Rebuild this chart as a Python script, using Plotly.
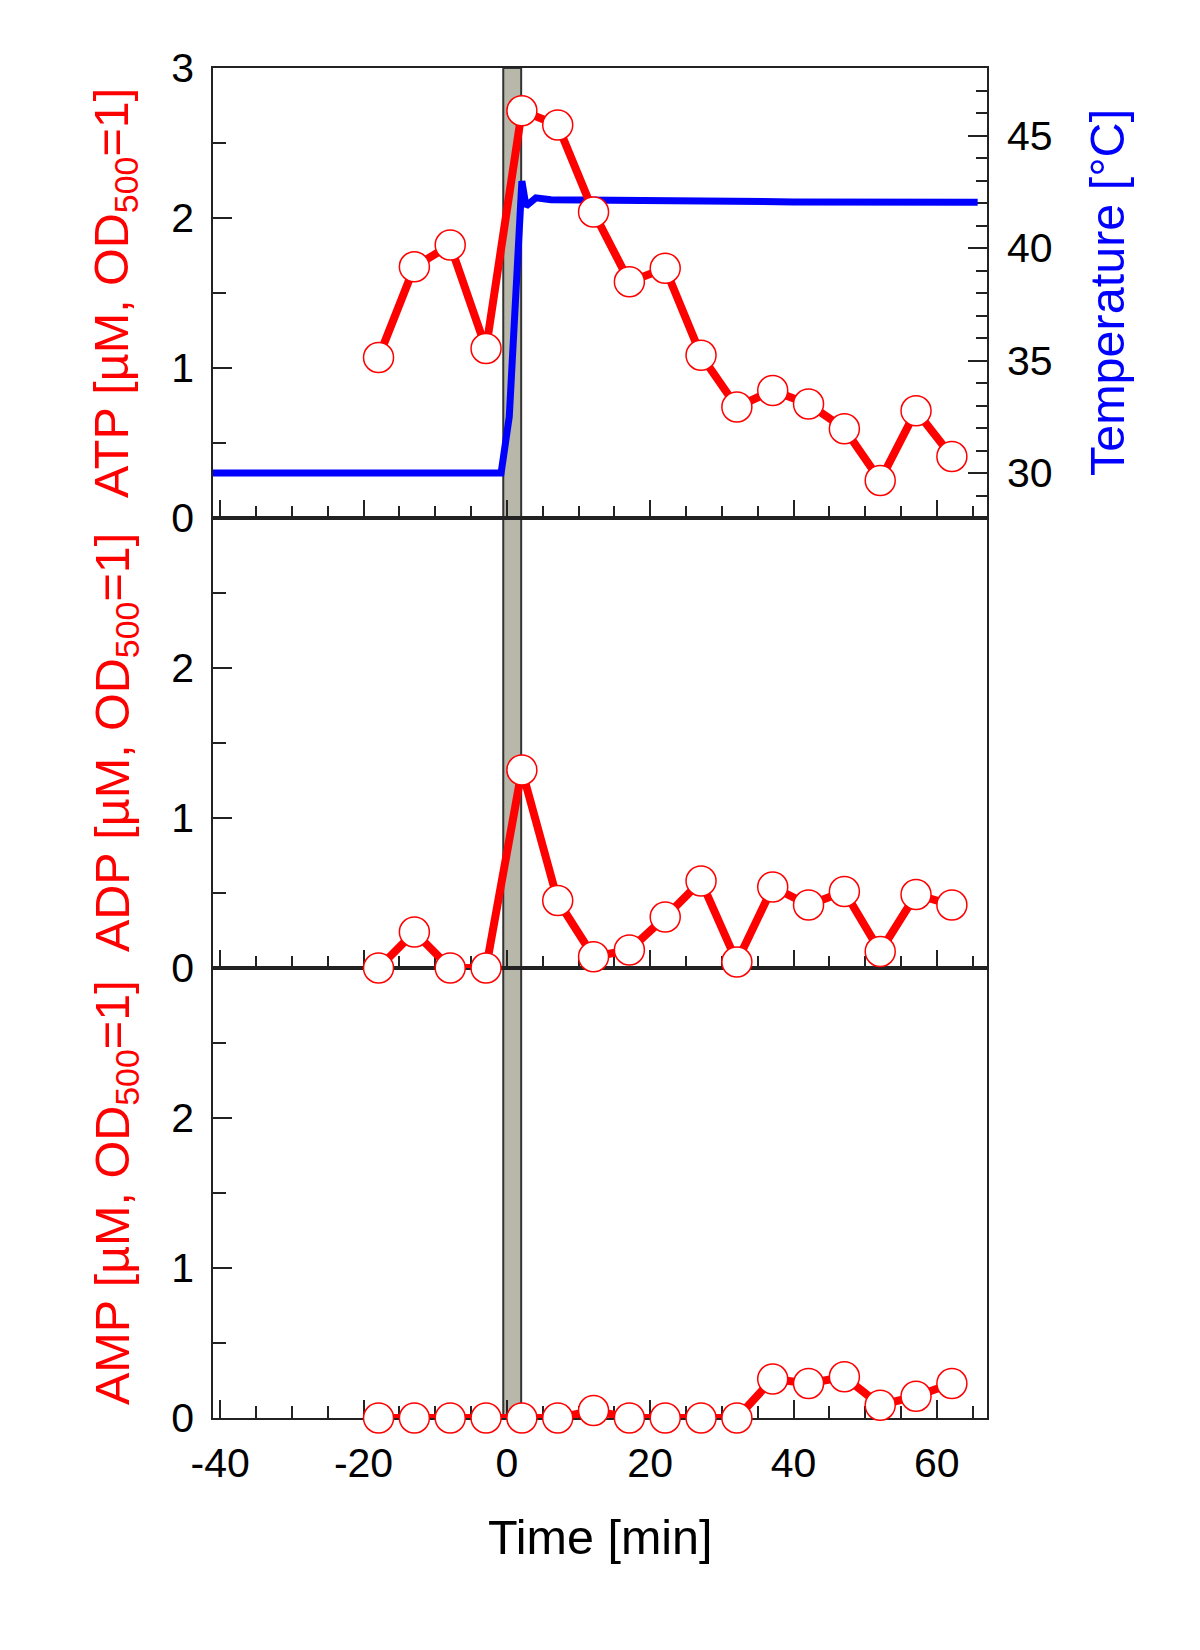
import plotly.graph_objects as go

# ---- data ----
time_pts = [-17.9, -12.9, -7.9, -2.9, 2.1, 7.1, 12.1, 17.1, 22.1, 27.1,
            32.1, 37.1, 42.1, 47.1, 52.1, 57.1, 62.1]
atp = [1.07, 1.675, 1.82, 1.13, 2.715, 2.62, 2.04, 1.575, 1.665, 1.085,
       0.74, 0.85, 0.76, 0.595, 0.25, 0.715, 0.41]
adp = [0.0, 0.24, 0.0, 0.0, 1.32, 0.45, 0.075, 0.12, 0.34, 0.58,
       0.04, 0.54, 0.42, 0.51, 0.11, 0.49, 0.42]
amp = [0.0, 0.0, 0.0, 0.0, 0.0, 0.0, 0.05, 0.0, 0.0, 0.0,
       0.0, 0.26, 0.23, 0.275, 0.085, 0.145, 0.23]

temp_time = [-41, -20, -0.8, 0.34, 1.03, 1.5, 1.73, 2.1, 2.67, 4.06, 6.15, 20, 40, 65.7]
temp_val = [30.0, 30.0, 30.0, 32.5, 36.95, 39.9, 42.15, 42.97, 41.86, 42.23, 42.15, 42.08, 42.05, 42.03]

heat_band = [-0.5, 2.0]

x_range = [-41, 67]
x_ticks = [-40, -20, 0, 20, 40, 60]
x_ticktext = ["-40", "-20", "0", "20", "40", "60"]
y_range = [0, 3]
temp_range = [28, 48]
temp_ticks = [30, 35, 40, 45]

FONT = "Liberation Sans, Arial, sans-serif"
RED = "#ff0000"
BLUE = "#0000ff"
AX = "#222222"
TICKF = 41
TITLEF = 48.5

# page has an 8px body margin: plot area must land at x 213..987, y 68..1418
W, H = 1192, 1642
ML, MT = 205, 60
PW, PH = 774, 1350

fig = go.Figure()

fig.add_trace(go.Scatter(x=temp_time, y=temp_val, mode="lines",
                         line=dict(color=BLUE, width=7),
                         xaxis="x3", yaxis="y3", showlegend=False))

marker = dict(symbol="circle", size=30, color="white",
              line=dict(color=RED, width=1.5))
line = dict(color=RED, width=8)

fig.add_trace(go.Scatter(x=time_pts, y=atp, mode="lines+markers", line=line,
                         marker=marker, xaxis="x3", yaxis="y4",
                         cliponaxis=False, showlegend=False))
fig.add_trace(go.Scatter(x=time_pts, y=adp, mode="lines+markers", line=line,
                         marker=marker, xaxis="x2", yaxis="y2",
                         cliponaxis=False, showlegend=False))
fig.add_trace(go.Scatter(x=time_pts, y=amp, mode="lines+markers", line=line,
                         marker=marker, xaxis="x", yaxis="y",
                         cliponaxis=False, showlegend=False))

xcommon = dict(range=x_range, showline=True, linecolor=AX, linewidth=1.5,
               ticks="inside", ticklen=18, tickwidth=1.5, tickcolor=AX,
               tickmode="array", tickvals=x_ticks, ticktext=x_ticktext,
               showgrid=False, zeroline=False, layer="below traces",
               minor=dict(dtick=5, tick0=0, ticks="inside", ticklen=12,
                          tickwidth=1.5, tickcolor=AX, showgrid=False),
               tickfont=dict(family=FONT, size=TICKF, color="black"))

ycommon = dict(range=y_range, showline=True, linecolor=AX, linewidth=1.5,
               ticks="inside", ticklen=19, tickwidth=1.5, tickcolor=AX,
               showgrid=False, zeroline=False, layer="below traces",
               tickfont=dict(family=FONT, size=TICKF, color="black"),
               ticklabelstandoff=9)

yminor = dict(tickmode="array", tickvals=[0.5, 1.5, 2.5],
              ticks="inside", ticklen=13, tickwidth=1.5, tickcolor=AX)

fig.update_layout(
    width=W, height=H,
    margin=dict(l=ML, r=W - ML - PW, t=MT, b=H - MT - PH, pad=0),
    paper_bgcolor="white", plot_bgcolor="white",
    font=dict(family=FONT, color="black"),
    xaxis=dict(**xcommon, domain=[0, 1], anchor="y", mirror=True,
               ticklabelstandoff=8),
    xaxis2=dict(**xcommon, domain=[0, 1], anchor="y2", matches="x",
                showticklabels=False, mirror=True),
    xaxis3=dict(**xcommon, domain=[0, 1], anchor="y3", matches="x",
                showticklabels=False, mirror=True),
    yaxis=dict(**ycommon, domain=[0, 1/3], anchor="x", mirror=True,
               tickmode="array", tickvals=[0, 1, 2], minor=yminor),
    yaxis2=dict(**ycommon, domain=[1/3, 2/3], anchor="x2", mirror=True,
                tickmode="array", tickvals=[0, 1, 2], minor=yminor),
    yaxis3=dict(range=temp_range, domain=[2/3, 1], anchor="x3", side="right",
                showline=True, linecolor=AX, linewidth=1.5,
                ticks="inside", ticklen=19, tickwidth=1.5, tickcolor=AX,
                tickmode="array", tickvals=temp_ticks,
                minor=dict(tickmode="array",
                           tickvals=[29, 31, 32, 33, 34, 36, 37, 38, 39, 41, 42, 43, 44, 46, 47],
                           ticks="inside", ticklen=11, tickwidth=1.5, tickcolor=AX),
                showgrid=False, zeroline=False, layer="below traces",
                tickfont=dict(family=FONT, size=TICKF, color="black"),
                ticklabelstandoff=10),
    yaxis4=dict(**ycommon, overlaying="y3", side="left", anchor="x3",
                tickmode="array", tickvals=[0, 1, 2, 3], minor=yminor),
)

fig.add_shape(type="rect", xref="x", yref="paper",
              x0=heat_band[0], x1=heat_band[1], y0=0, y1=1,
              fillcolor="#b7b7aa", line=dict(color="#333333", width=2),
              layer="below")

ann_font = dict(family=FONT, size=TITLEF, color=RED)
for label, yc in [("ATP [µM, OD<sub>500</sub>=1]", 5/6),
                  ("ADP [µM, OD<sub>500</sub>=1]", 0.5),
                  ("AMP [µM, OD<sub>500</sub>=1]", 1/6)]:
    fig.add_annotation(text=label, xref="paper", yref="paper",
                       x=(115 - 213) / PW, y=yc, textangle=-90,
                       xanchor="center", yanchor="middle",
                       showarrow=False, font=ann_font)

fig.add_annotation(text="Temperature [°C]", xref="paper", yref="paper",
                   x=(1107 - 213) / PW, y=5/6, textangle=-90,
                   xanchor="center", yanchor="middle", showarrow=False,
                   font=dict(family=FONT, size=TITLEF, color=BLUE))

fig.add_annotation(text="Time [min]", xref="paper", yref="paper",
                   x=0.5, y=(1418 - 1537) / PH,
                   xanchor="center", yanchor="middle", showarrow=False,
                   font=dict(family=FONT, size=TITLEF, color="black"))

fig.write_html("out.html")
